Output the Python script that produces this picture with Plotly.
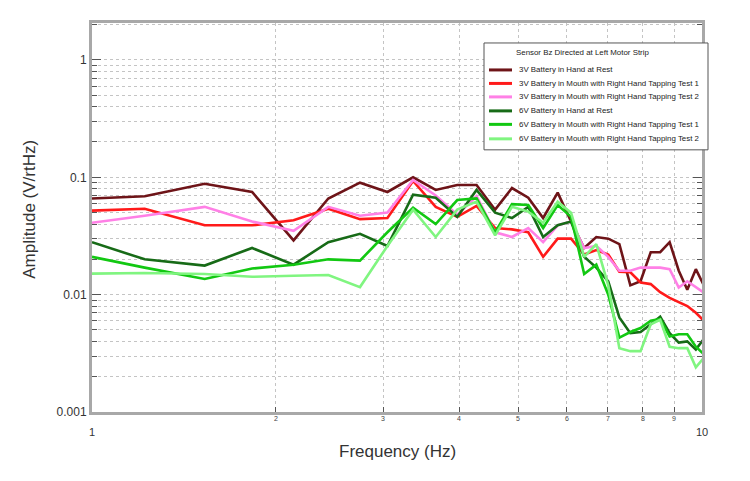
import math
import plotly.graph_objects as go

freq = [1.0, 1.22, 1.53, 1.83, 2.14, 2.44, 2.75, 3.05, 3.36, 3.66, 3.97, 4.27, 4.58, 4.88,
        5.19, 5.49, 5.80, 6.10, 6.41, 6.71, 7.02, 7.32, 7.63, 7.93, 8.24, 8.54, 8.85, 9.16,
        9.46, 9.77, 10.07]

v3_rest = [0.066, 0.069, 0.088, 0.075, 0.029, 0.066, 0.090, 0.075, 0.100, 0.078, 0.086, 0.086,
           0.053, 0.081, 0.067, 0.045, 0.074, 0.042, 0.025, 0.031, 0.030, 0.027, 0.012, 0.013,
           0.023, 0.023, 0.028, 0.016, 0.011, 0.0165, 0.012]
v3_test1 = [0.052, 0.054, 0.039, 0.039, 0.043, 0.054, 0.044, 0.045, 0.093, 0.056, 0.046, 0.057,
            0.037, 0.036, 0.034, 0.021, 0.030, 0.030, 0.022, 0.024, 0.022, 0.0157, 0.0155, 0.0127,
            0.0123, 0.0105, 0.0094, 0.0087, 0.0080, 0.0070, 0.0060]
v3_test2 = [0.041, 0.047, 0.056, 0.042, 0.035, 0.056, 0.047, 0.050, 0.095, 0.070, 0.048, 0.069,
            0.034, 0.031, 0.037, 0.028, 0.039, 0.042, 0.025, 0.026, 0.021, 0.016, 0.016, 0.017,
            0.017, 0.017, 0.0165, 0.0115, 0.013, 0.0115, 0.0104]
v6_rest = [0.028, 0.020, 0.0177, 0.025, 0.018, 0.028, 0.033, 0.026, 0.071, 0.067, 0.046, 0.078,
           0.050, 0.045, 0.056, 0.031, 0.039, 0.042, 0.021, 0.017, 0.013, 0.0064, 0.0047, 0.0048,
           0.0056, 0.0065, 0.0047, 0.0039, 0.0040, 0.0034, 0.0042]
v6_test1 = [0.021, 0.017, 0.0136, 0.0167, 0.018, 0.020, 0.0195, 0.034, 0.055, 0.040, 0.064, 0.066,
            0.034, 0.059, 0.058, 0.037, 0.058, 0.046, 0.015, 0.018, 0.010, 0.0043, 0.0048, 0.0052,
            0.0060, 0.0062, 0.0044, 0.0046, 0.0046, 0.0036, 0.0031]
v6_test2 = [0.0151, 0.0153, 0.0150, 0.0142, 0.0145, 0.0147, 0.0116, 0.026, 0.053, 0.031, 0.053, 0.062,
            0.032, 0.056, 0.051, 0.041, 0.062, 0.050, 0.021, 0.027, 0.012, 0.0035, 0.0033, 0.0033,
            0.0056, 0.0061, 0.0036, 0.0035, 0.0035, 0.0024, 0.0029]

series_names = [
    "3V Battery in Hand at Rest",
    "3V Battery in Mouth with Right Hand Tapping Test 1",
    "3V Battery in Mouth with Right Hand Tapping Test 2",
    "6V Battery in Hand at Rest",
    "6V Battery in Mouth with Right Hand Tapping Test 1",
    "6V Battery in Mouth with Right Hand Tapping Test 2",
]
series_values = [v3_rest, v3_test1, v3_test2, v6_rest, v6_test1, v6_test2]
colors = ["#6E1418", "#FF1A1A", "#FF80E6", "#176B17", "#12C812", "#80F580"]
legend_title = "Sensor Bz Directed at Left Motor Strip"

y_tickvals = [0.001, 0.01, 0.1, 1]
y_ticktext = ["0.001", "0.01", "0.1", "1"]
x_major = [1, 10]
x_minor_labels = [2, 3, 4, 5, 6, 7, 8, 9]

FONT = "Liberation Sans, Arial, sans-serif"

# plot area geometry (page pixels)
L, T, PW, PH = 84, 15, 610, 389.5
W, H = 750, 481


def px(xp):
    return (xp - L) / PW


def py(yp):
    return (T + PH - yp) / PH


fig = go.Figure()
for name, vals, col in zip(series_names, series_values, colors):
    fig.add_trace(go.Scatter(x=freq, y=vals, mode="lines", name=name, showlegend=False,
                             line=dict(color=col, width=2.6)))

grid = dict(gridcolor="#c4c4c4", griddash="dot", gridwidth=1)

fig.update_xaxes(type="log", range=[0, 1],
                 tickvals=x_major, ticktext=[str(v) for v in x_major],
                 tickfont=dict(size=11, color="#333", family=FONT),
                 ticks="inside", ticklen=6, tickcolor="#555", ticklabelstandoff=8,
                 showline=True, linecolor="#a8a8a8", linewidth=3, mirror=True,
                 minor=dict(tickvals=x_minor_labels, showgrid=True, ticks="inside", ticklen=5,
                            tickcolor="#555", gridcolor="#c4c4c4", griddash="dot"),
                 zeroline=False, **grid)
fig.update_yaxes(type="log", range=[-3, 0.315],
                 tickvals=y_tickvals, ticktext=y_ticktext,
                 tickfont=dict(size=12, color="#333", family=FONT),
                 ticks="inside", ticklen=9, tickcolor="#555",
                 showline=True, linecolor="#a8a8a8", linewidth=3, mirror="ticks",
                 minor=dict(dtick="D1", showgrid=True, ticks="inside", ticklen=5,
                            tickcolor="#555", gridcolor="#c4c4c4", griddash="dot"),
                 zeroline=False, **grid)

annotations = []
for k in x_minor_labels:
    annotations.append(dict(x=math.log10(k), xref="x", y=0, yref="paper", yanchor="top",
                            yshift=-1, text=str(k), showarrow=False,
                            font=dict(size=7, color="#444", family=FONT)))
annotations.append(dict(x=0.5, xref="paper", y=py(444), yref="paper", yanchor="middle",
                        text="Frequency (Hz)", showarrow=False,
                        font=dict(size=17, color="#333", family=FONT)))
annotations.append(dict(x=px(22), xref="paper", xanchor="center", y=0.52, yref="paper",
                        textangle=-90, text="Amplitude (V/rtHz)", showarrow=False,
                        font=dict(size=17, color="#333", family=FONT)))

# manual legend box (page pixels)
shapes = [dict(type="rect", xref="paper", yref="paper",
               x0=px(476), x1=px(700), y0=py(142), y1=py(35),
               fillcolor="white", line=dict(color="#555", width=1), layer="above")]
annotations.append(dict(x=px(506), xref="paper", xanchor="left", y=py(45), yref="paper",
                        yanchor="middle", text=legend_title, showarrow=False,
                        font=dict(size=7.9, color="#222", family=FONT)))
row_y = [62, 75.5, 89, 103, 116.5, 131]
for name, col, yy in zip(series_names, colors, row_y):
    shapes.append(dict(type="line", xref="paper", yref="paper",
                       x0=px(481), x1=px(504), y0=py(yy), y1=py(yy),
                       line=dict(color=col, width=3), layer="above"))
    annotations.append(dict(x=px(509), xref="paper", xanchor="left", y=py(yy), yref="paper",
                            yanchor="middle", text=name, showarrow=False,
                            font=dict(size=7.9, color="#222", family=FONT)))

fig.update_layout(
    width=W, height=H,
    margin=dict(l=L, r=W - L - PW, t=T, b=H - T - PH),
    paper_bgcolor="white", plot_bgcolor="white",
    font=dict(family=FONT, color="#222"),
    showlegend=False,
    annotations=annotations,
    shapes=shapes,
)

fig.write_html("out.html")
